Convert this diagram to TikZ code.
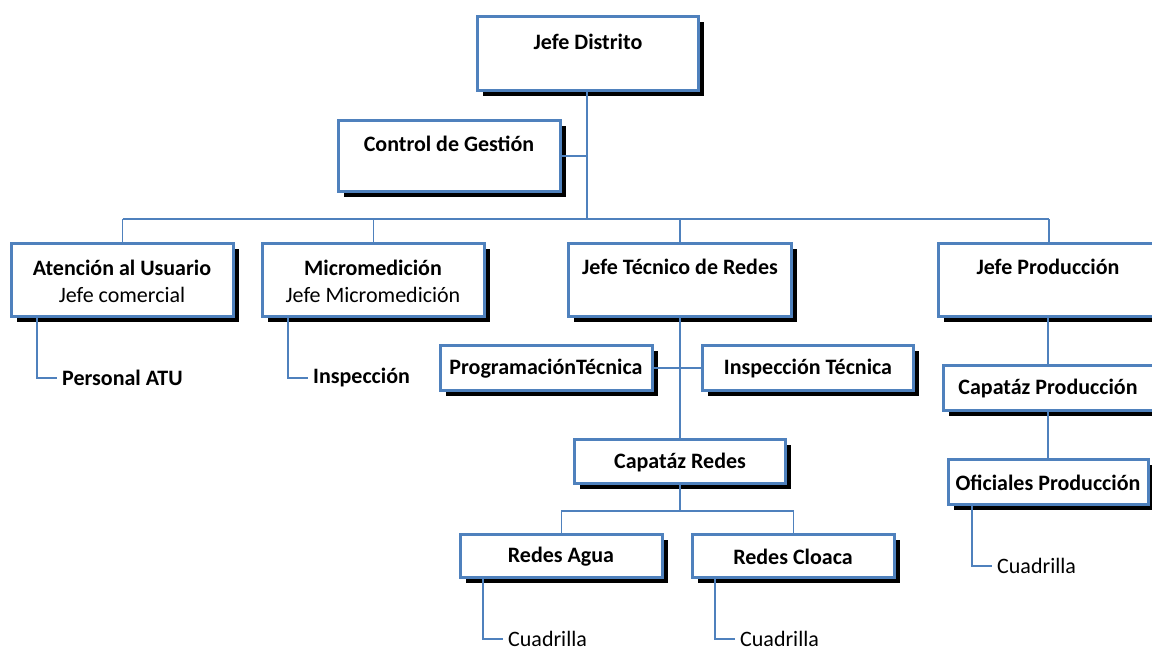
\documentclass[tikz,border=0pt]{standalone}
\usepackage{fontspec}
\setmainfont{Carlito}
\usetikzlibrary{fit,shadows}
\definecolor{obl}{HTML}{4F81BD}
\tikzset{
  box/.style={draw=obl, line width=3pt, fill=white, inner sep=0pt,
    drop shadow={shadow xshift=5pt, shadow yshift=-5pt, opacity=1, fill=black}},
  bt/.style={font=\fontsize{22}{26}\selectfont\bfseries, inner sep=0pt},
  rt/.style={font=\fontsize{22}{26}\selectfont, inner sep=0pt},
  side/.style={anchor=west, inner sep=5pt},
  conn/.style={draw=obl, line width=1.6pt}
}
\begin{document}
\begin{tikzpicture}[x=1pt,y=-1pt]
\useasboundingbox[fill=white] (0,0) rectangle (1152,649);
% boxes
\node[box, fit={(477.5,16.5) (698.5,90.5)}] (jd) {};
\node[box, fit={(338.5,120.5) (560.5,191.5)}] (cg) {};
\node[box, fit={(11.5,243.5) (233.5,316.5)}] (au) {};
\node[box, fit={(262.5,243.5) (484.5,316.5)}] (mm) {};
\node[box, fit={(568.5,243.5) (791.5,316.5)}] (jt) {};
\node[box, fit={(938.5,243.5) (1159.5,316.5)}] (jp) {};
\node[box, fit={(440.5,345.5) (652.5,390.5)}] (pt) {};
\node[box, fit={(702.5,345.5) (913.5,390.5)}] (it) {};
\node[box, fit={(943.5,365.5) (1154.5,410.5)}] (cp) {};
\node[box, fit={(948.5,459.5) (1148.5,504.5)}] (op) {};
\node[box, fit={(574.5,439.5) (785.5,483.5)}] (cr) {};
\node[box, fit={(460.5,534.5) (662.5,577.5)}] (ra) {};
\node[box, fit={(692.5,534.5) (894.5,577.5)}] (rc) {};
% texts
\node[bt] (jdt) at (588,42) {Jefe Distrito};
\node[bt] (cgt) at (449,144) {Control de Gestión};
\node[bt] (aut) at (122,268) {Atención al Usuario};
\node[rt] (aut2) at (122,295) {Jefe comercial};
\node[bt] (mmt) at (373,268) {Micromedición};
\node[rt] (mmt2) at (373,295) {Jefe Micromedición};
\node[bt] (jtt) at (680,267) {Jefe Técnico de Redes};
\node[bt] (jpt) at (1048,267) {Jefe Producción};
\node[bt] (ptt) at (546,369) {ProgramaciónTécnica};
\node[bt] (itt) at (808,369) {Inspección Técnica};
\node[bt] (cpt) at (1048,389) {Capatáz Producción};
\node[bt] (opt) at (1048,483) {Oficiales Producción};
\node[bt] (crt) at (680,463) {Capatáz Redes};
\node[bt] (rat) at (561,557) {Redes Agua};
\node[bt] (rct) at (793,557) {Redes Cloaca};
\node[bt, side] (pat) at (57,378) {Personal ATU};
\node[bt, side] (ins) at (308,378) {Inspección};
\node[rt, side] (cq1) at (992,566) {Cuadrilla};
\node[rt, side] (cq2) at (503,639) {Cuadrilla};
\node[rt, side] (cq3) at (735,639) {Cuadrilla};
% coordinates
\coordinate (bus) at (587,219);
\coordinate (bus2) at (680,511);
\coordinate (ka) at (37,0);
\coordinate (kb) at (288,0);
\coordinate (kc) at (972,0);
\coordinate (kd) at (483,0);
\coordinate (ke) at (715,0);
% connectors
\draw[conn] (jd.south -| bus) -- (bus);
\draw[conn] (cg.east) -- (cg.east -| bus);
\draw[conn] (au.north |- bus) -- (jp.north |- bus);
\foreach \n in {au,mm,jt,jp} \draw[conn] (\n.north) -- (\n.north |- bus);
\draw[conn] (jt.south) -- (cr.north);
\draw[conn] (pt.east) -- (it.west);
\draw[conn] (jp.south -| 1048,0) -- (cp.north -| 1048,0);
\draw[conn] (cp.south -| 1048,0) -- (op.north -| 1048,0);
\draw[conn] (cr.south) -- (bus2);
\draw[conn] (ra.north) -- (ra.north |- bus2) -- (rc.north |- bus2) -- (rc.north);
\draw[conn] (au.south -| ka) |- (pat.west);
\draw[conn] (mm.south -| kb) |- (ins.west);
\draw[conn] (op.south -| kc) |- (cq1.west);
\draw[conn] (ra.south -| kd) |- (cq2.west);
\draw[conn] (rc.south -| ke) |- (cq3.west);
\end{tikzpicture}
\end{document}
